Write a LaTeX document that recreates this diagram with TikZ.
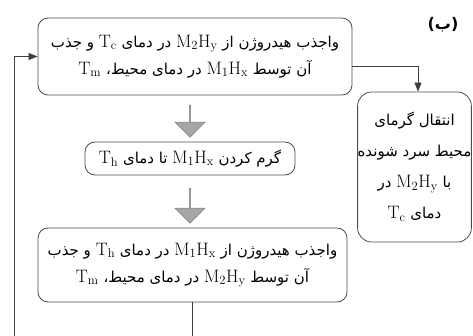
\documentclass[tikz,border=0pt]{standalone}
\usepackage{fontspec}
\newfontfamily\arabicfont[Script=Arabic]{DejaVu Sans}
\TeXXeTstate=1
\usetikzlibrary{arrows.meta,shapes.arrows}
\newcommand{\rtl}[1]{\beginR #1\endR}
\newcommand{\ltr}[1]{\beginL{\fontsize{18}{20}\selectfont$\mathrm{#1}$}\endL}
\begin{document}
\begin{tikzpicture}[x=1pt,y=-1pt,
	stage/.style={draw=black!70,line width=0.8pt,rounded corners=10pt,align=center,inner sep=0pt,
		font=\arabicfont\fontsize{15}{27}\selectfont},
	flow/.style={draw=black!75,line width=0.7pt,-{Triangle[length=9pt,width=7pt]}},
	bigarrow/.style={single arrow,draw=black!50,fill=black!35,line width=0.6pt,rotate=-90,inner sep=0pt,
		minimum width=30pt,single arrow head extend=7.5pt,anchor=tail}]
	\useasboundingbox (0,0) rectangle (473,336);
	\clip (0,0) rectangle (473,336);
	\node[stage,minimum width=314pt,minimum height=77pt] (desorb1) at (195,56.5)
		{\rtl{واجذب هیدروژن از \ltr{M_2H_y} در دمای \ltr{T_c} و جذب}\\
		 \rtl{آن توسط \ltr{M_1H_x} در دمای محیط، \ltr{T_m}}};
	\node[stage,minimum width=210pt,minimum height=33pt] (heating) at (190,158.5)
		{\rtl{گرم کردن \ltr{M_1H_x} تا دمای \ltr{T_h}}};
	\node[stage,minimum width=309pt,minimum height=74pt] (desorb2) at (192.5,265)
		{\rtl{واجذب هیدروژن از \ltr{M_1H_x} در دمای \ltr{T_h} و جذب}\\
		 \rtl{آن توسط \ltr{M_2H_y} در دمای محیط، \ltr{T_m}}};
	\node[stage,rounded corners=14pt,minimum width=113pt,minimum height=150pt,
		font=\arabicfont\fontsize{15}{31}\selectfont] (cooling) at (414.5,167)
		{\rtl{انتقال گرمای}\\ \rtl{محیط سرد شونده}\\ \rtl{با \ltr{M_2H_y} در}\\ \rtl{دمای \ltr{T_c}}};
	\node[font=\arabicfont\bfseries\fontsize{16}{18}\selectfont] (label) at (443,25) {\rtl{(ب)}};
	\node[bigarrow,minimum height=32pt] (arr1) at (190,105) {};
	\node[bigarrow,minimum height=35pt] (arr2) at (190,188) {};
	\coordinate (back) at (14,350);
	\draw[flow] ([yshift=-10pt]desorb1.east) -| ([xshift=3.5pt]cooling.north);
	\draw[flow] (desorb2.south) |- (back) |- (desorb1.west);
\end{tikzpicture}
\end{document}
